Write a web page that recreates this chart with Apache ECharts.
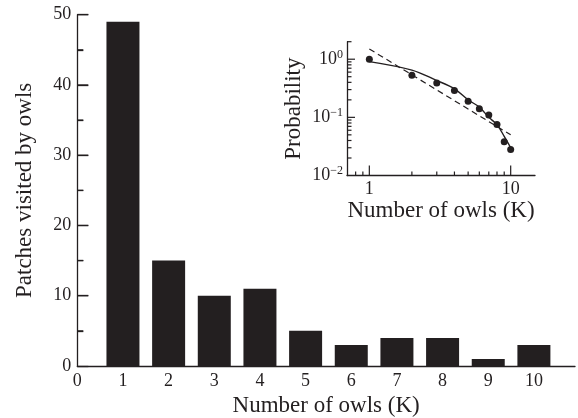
<!DOCTYPE html>
<html>
<head>
<meta charset="utf-8">
<script src="https://cdn.jsdelivr.net/npm/echarts@6/dist/echarts.min.js"></script>
<style>
html,body{margin:0;padding:0;background:#fff;}
#c{width:578px;height:418px;}
</style>
</head>
<body>
<div id="c"></div>
<script>
// ---- data ----
const owls = [1, 2, 3, 4, 5, 6, 7, 8, 9, 10];
const patches = [49, 15, 10, 11, 5, 3, 4, 4, 1, 3];
const probObserved = [1.0, 0.53, 0.39, 0.29, 0.19, 0.14, 0.11, 0.075, 0.038, 0.028];
const probFitCurve = [0.91, 0.65, 0.43, 0.31, 0.20, 0.15, 0.10, 0.075, 0.047, 0.030];
const powerLawX = [1, 10];
const powerLawY = [1.5, 0.05];
const mainYTicks = [5, 10, 15, 20, 25, 30, 35, 40, 45, 50];
const insetXTicks = [0.8, 0.9, 1, 2, 3, 4, 5, 6, 7, 8, 9, 10];
const insetXMajor = [1, 10];
const insetYTicks = [0.02, 0.03, 0.04, 0.05, 0.06, 0.07, 0.08, 0.09, 0.1, 0.2, 0.3, 0.4, 0.5, 0.6, 0.7, 0.8, 0.9, 1, 2];
const insetYMajor = [0.1, 1];

const INK = '#231f20';
const FONT = 'Liberation Serif';
const IX_MIN = 0.695, IX_MAX = 14.86, IY_MIN = 0.01, IY_MAX = 2;

function isDecade(v) {
  const l = Math.log10(v);
  return Math.abs(l - Math.round(l)) < 1e-6;
}

const chart = echarts.init(document.getElementById('c'));
chart.setOption({
  animation: false,
  backgroundColor: '#fff',
  grid: [
    {left: 77.3, top: 14.7, right: 3, bottom: 52, containLabel: false, outerBoundsMode: 'none'},
    {left: 347, top: 41.7, right: 43, bottom: 242.5, containLabel: false, outerBoundsMode: 'none'}
  ],
  xAxis: [
    {
      gridIndex: 0, type: 'value', min: 0, max: 10.9, interval: 1,
      name: 'Number of owls (K)', nameLocation: 'middle', nameGap: 28,
      nameTextStyle: {fontFamily: FONT, fontSize: 23, color: INK},
      axisLine: {show: true, onZero: false, lineStyle: {color: INK, width: 1.3}},
      axisTick: {show: false},
      splitLine: {show: false},
      axisLabel: {
        fontFamily: FONT, fontSize: 18, color: INK, margin: 6,
        formatter: v => Number.isInteger(v) ? String(v) : ''
      }
    },
    {
      gridIndex: 1, type: 'log', logBase: 10, min: IX_MIN, max: IX_MAX,
      name: 'Number of owls (K)', nameLocation: 'middle', nameGap: 21,
      nameTextStyle: {fontFamily: FONT, fontSize: 23, color: INK},
      axisLine: {show: true, onZero: false, lineStyle: {color: INK, width: 1.3}},
      axisTick: {show: false},
      splitLine: {show: false},
      minorTick: {show: false},
      axisLabel: {
        fontFamily: FONT, fontSize: 18, color: INK, margin: 5,
        formatter: v => isDecade(v) ? String(Math.round(v)) : ''
      }
    }
  ],
  yAxis: [
    {
      gridIndex: 0, type: 'value', min: 0, max: 50, interval: 10,
      name: 'Patches visited by owls', nameLocation: 'middle', nameGap: 41,
      nameTextStyle: {fontFamily: FONT, fontSize: 23, color: INK},
      axisLine: {show: true, lineStyle: {color: INK, width: 1.3}},
      axisTick: {show: true, inside: true, length: 11, lineStyle: {color: INK, width: 1.3}},
      minorTick: {show: true, splitNumber: 2, length: 6, lineStyle: {color: INK, width: 1.3}},
      splitLine: {show: false},
      axisLabel: {fontFamily: FONT, fontSize: 18, color: INK, margin: 6}
    },
    {
      gridIndex: 1, type: 'log', logBase: 10, min: IY_MIN, max: IY_MAX,
      name: 'Probability', nameLocation: 'middle', nameGap: 42,
      nameTextStyle: {fontFamily: FONT, fontSize: 23, color: INK},
      axisLine: {show: true, onZero: false, lineStyle: {color: INK, width: 1.3}},
      axisTick: {show: false},
      splitLine: {show: false},
      minorTick: {show: false},
      axisLabel: {
        fontFamily: FONT, fontSize: 18, color: INK, margin: 4,
        formatter: v => {
          if (!isDecade(v)) return '';
          const e = Math.round(Math.log10(v));
          return '{b|10}{s|' + (e < 0 ? '\u2212' : '') + Math.abs(e) + '}';
        },
        rich: {
          b: {fontFamily: FONT, fontSize: 18, color: INK},
          s: {fontFamily: FONT, fontSize: 12, color: INK, padding: [0, 0, 9, 0]}
        }
      }
    }
  ],
  series: [
    {
      type: 'bar', xAxisIndex: 0, yAxisIndex: 0,
      data: owls.map((k, i) => [k, patches[i]]),
      barWidth: 33,
      itemStyle: {color: INK}
    },
    {
      type: 'custom', coordinateSystem: 'cartesian2d', xAxisIndex: 0, yAxisIndex: 0,
      clip: false, silent: true,
      data: mainYTicks.map(v => [0, v]),
      renderItem: (params, api) => {
        const v = api.value(1);
        const p = api.coord([0, v]);
        const len = v % 10 === 0 ? 11 : 6;
        return {type: 'line', shape: {x1: p[0], y1: p[1], x2: p[0] + len, y2: p[1]},
                style: {stroke: INK, lineWidth: 1.3}};
      },
      z: 5
    },
    {
      type: 'line', xAxisIndex: 1, yAxisIndex: 1,
      data: powerLawX.map((x, i) => [x, powerLawY[i]]),
      showSymbol: false, symbol: 'none',
      lineStyle: {color: INK, width: 1.2, type: [6, 4]},
      z: 3
    },
    {
      type: 'line', xAxisIndex: 1, yAxisIndex: 1,
      data: owls.map((k, i) => [k, probFitCurve[i]]),
      smooth: 0.35, showSymbol: false, symbol: 'none',
      lineStyle: {color: INK, width: 1.4},
      z: 3
    },
    {
      type: 'scatter', xAxisIndex: 1, yAxisIndex: 1,
      data: owls.map((k, i) => [k, probObserved[i]]),
      symbol: 'circle', symbolSize: 7,
      itemStyle: {color: INK, opacity: 1},
      z: 4
    },
    {
      type: 'custom', coordinateSystem: 'cartesian2d', xAxisIndex: 1, yAxisIndex: 1,
      clip: false, silent: true,
      data: insetXTicks.map(v => [v, IY_MIN]),
      renderItem: (params, api) => {
        const v = api.value(0);
        const p = api.coord([v, IY_MIN]);
        const len = insetXMajor.indexOf(v) >= 0 ? 10 : 4;
        return {type: 'line', shape: {x1: p[0], y1: p[1], x2: p[0], y2: p[1] - len},
                style: {stroke: INK, lineWidth: 1.2}};
      },
      z: 5
    },
    {
      type: 'custom', coordinateSystem: 'cartesian2d', xAxisIndex: 1, yAxisIndex: 1,
      clip: false, silent: true,
      data: insetYTicks.map(v => [IX_MIN, v]),
      renderItem: (params, api) => {
        const v = api.value(1);
        const p = api.coord([IX_MIN, v]);
        const len = insetYMajor.indexOf(v) >= 0 ? 8 : 4.5;
        return {type: 'line', shape: {x1: p[0], y1: p[1], x2: p[0] + len, y2: p[1]},
                style: {stroke: INK, lineWidth: 1.2}};
      },
      z: 5
    }
  ]
});
</script>
</body>
</html>
